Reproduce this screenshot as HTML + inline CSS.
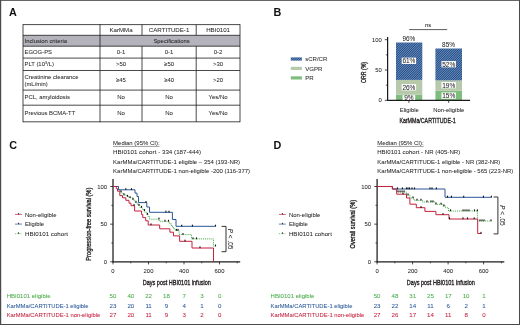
<!DOCTYPE html>
<html><head><meta charset="utf-8"><title>Figure</title>
<style>
html,body{margin:0;padding:0;background:#fff;}
body{width:520px;height:325px;overflow:hidden;position:relative;}
svg{position:absolute;left:0;top:0;display:block;will-change:transform;}
svg text{font-family:"Liberation Sans",sans-serif;}
</style></head><body>
<svg width="520" height="325" viewBox="0 0 520 325">
<defs>
<pattern id="hb" width="1.62" height="1.62" patternUnits="userSpaceOnUse" patternTransform="rotate(-45)">
<rect width="1.62" height="1.62" fill="#194887"/><rect width="1.62" height="0.4" fill="#cdd9ea"/>
</pattern>
<pattern id="hv" width="1" height="1" patternUnits="userSpaceOnUse">
<rect width="1" height="1" fill="#b0c5a5"/><rect width="0.5" height="0.5" fill="#c9d8c0"/>
</pattern>
<pattern id="hp" width="1" height="1" patternUnits="userSpaceOnUse">
<rect width="1" height="1" fill="#77b977"/><rect width="0.5" height="0.5" fill="#98cc98"/>
</pattern>
</defs>

<rect x="0" y="0" width="520" height="0.85" fill="#4a4a4a"/><rect x="0" y="0" width="1.2" height="325" fill="#4a4a4a"/><rect x="519" y="0" width="1" height="325" fill="#4a4a4a"/><rect x="0" y="324" width="520" height="1" fill="#4a4a4a"/>
<text x="9" y="15.8" font-size="10.8" text-anchor="start" fill="#111" stroke="#111" stroke-width="0" font-weight="bold">A</text>
<text x="273.5" y="15.8" font-size="10.8" text-anchor="start" fill="#111" stroke="#111" stroke-width="0" font-weight="bold">B</text>
<text x="9.2" y="149.4" font-size="10.8" text-anchor="start" fill="#111" stroke="#111" stroke-width="0" font-weight="bold">C</text>
<text x="273.5" y="149.4" font-size="10.8" text-anchor="start" fill="#111" stroke="#111" stroke-width="0" font-weight="bold">D</text>
<rect x="23" y="35.3" width="217" height="10.900000000000006" fill="#b4b3bb"/>
<line x1="23" y1="24.6" x2="240" y2="24.6" stroke="#1c1c1c" stroke-width="0.8"/>
<line x1="23" y1="35.3" x2="240" y2="35.3" stroke="#1c1c1c" stroke-width="0.8"/>
<line x1="23" y1="46.2" x2="240" y2="46.2" stroke="#1c1c1c" stroke-width="0.8"/>
<line x1="23" y1="58.1" x2="240" y2="58.1" stroke="#1c1c1c" stroke-width="0.8"/>
<line x1="23" y1="70.5" x2="240" y2="70.5" stroke="#1c1c1c" stroke-width="0.8"/>
<line x1="23" y1="90.1" x2="240" y2="90.1" stroke="#1c1c1c" stroke-width="0.8"/>
<line x1="23" y1="105.2" x2="240" y2="105.2" stroke="#1c1c1c" stroke-width="0.8"/>
<line x1="23" y1="121.8" x2="240" y2="121.8" stroke="#1c1c1c" stroke-width="0.8"/>
<line x1="23" y1="24.200000000000003" x2="23" y2="122.2" stroke="#1c1c1c" stroke-width="0.8"/>
<line x1="100" y1="24.200000000000003" x2="100" y2="122.2" stroke="#1c1c1c" stroke-width="0.8"/>
<line x1="142" y1="24.6" x2="142" y2="35.3" stroke="#1c1c1c" stroke-width="0.8"/>
<line x1="142" y1="46.2" x2="142" y2="121.8" stroke="#1c1c1c" stroke-width="0.8"/>
<line x1="196.2" y1="24.6" x2="196.2" y2="35.3" stroke="#1c1c1c" stroke-width="0.8"/>
<line x1="196.2" y1="46.2" x2="196.2" y2="121.8" stroke="#1c1c1c" stroke-width="0.8"/>
<line x1="240" y1="24.200000000000003" x2="240" y2="122.2" stroke="#1c1c1c" stroke-width="0.8"/>
<text x="121.0" y="32.05" font-size="6.15" text-anchor="middle" fill="#231f20" stroke="#231f20" stroke-width="0.04" font-weight="normal">KarMMa</text>
<text x="169.1" y="32.05" font-size="6.15" text-anchor="middle" fill="#231f20" stroke="#231f20" stroke-width="0.04" font-weight="normal">CARTITUDE-1</text>
<text x="218.1" y="32.05" font-size="6.15" text-anchor="middle" fill="#231f20" stroke="#231f20" stroke-width="0.04" font-weight="normal">HBI0101</text>
<text x="24.5" y="42.85" font-size="5.9" text-anchor="start" fill="#231f20" stroke="#231f20" stroke-width="0.04" font-weight="normal">Inclusion criteria</text>
<text x="171.6" y="42.85" font-size="5.9" text-anchor="middle" fill="#231f20" stroke="#231f20" stroke-width="0.04" font-weight="normal">Specifications</text>
<text x="24.5" y="54.25000000000001" font-size="5.9" text-anchor="start" fill="#231f20" stroke="#231f20" stroke-width="0.04" font-weight="normal">EGOG-PS</text>
<text x="121.0" y="54.25000000000001" font-size="6.0" text-anchor="middle" fill="#231f20" stroke="#231f20" stroke-width="0.04" font-weight="normal">0-1</text>
<text x="169.1" y="54.25000000000001" font-size="6.0" text-anchor="middle" fill="#231f20" stroke="#231f20" stroke-width="0.04" font-weight="normal">0-1</text>
<text x="218.1" y="54.25000000000001" font-size="6.0" text-anchor="middle" fill="#231f20" stroke="#231f20" stroke-width="0.04" font-weight="normal">0-2</text>
<text x="24.5" y="66.39999999999999" font-size="5.9" text-anchor="start" fill="#231f20" stroke="#231f20" stroke-width="0.04" font-weight="normal">PLT (10<tspan font-size="3.8" dy="-2.2">3</tspan><tspan dy="2.2">/L)</tspan></text>
<text x="121.0" y="66.39999999999999" font-size="6.0" text-anchor="middle" fill="#231f20" stroke="#231f20" stroke-width="0.04" font-weight="normal">&gt;50</text>
<text x="169.1" y="66.39999999999999" font-size="6.0" text-anchor="middle" fill="#231f20" stroke="#231f20" stroke-width="0.04" font-weight="normal">≥50</text>
<text x="218.1" y="66.39999999999999" font-size="6.0" text-anchor="middle" fill="#231f20" stroke="#231f20" stroke-width="0.04" font-weight="normal">&gt;30</text>
<text x="24.5" y="78.7" font-size="5.9" text-anchor="start" fill="#231f20" stroke="#231f20" stroke-width="0.04" font-weight="normal">Creatinine clearance</text>
<text x="24.5" y="86.2" font-size="5.9" text-anchor="start" fill="#231f20" stroke="#231f20" stroke-width="0.04" font-weight="normal">(mL/min)</text>
<text x="121.0" y="82.39999999999999" font-size="5.9" text-anchor="middle" fill="#231f20" stroke="#231f20" stroke-width="0.04" font-weight="normal">≥45</text>
<text x="169.1" y="82.39999999999999" font-size="5.9" text-anchor="middle" fill="#231f20" stroke="#231f20" stroke-width="0.04" font-weight="normal">≥40</text>
<text x="218.1" y="82.39999999999999" font-size="5.9" text-anchor="middle" fill="#231f20" stroke="#231f20" stroke-width="0.04" font-weight="normal">&gt;20</text>
<text x="24.5" y="99.15" font-size="5.9" text-anchor="start" fill="#231f20" stroke="#231f20" stroke-width="0.04" font-weight="normal">PCL, amyloidosis</text>
<text x="121.0" y="99.15" font-size="6.0" text-anchor="middle" fill="#231f20" stroke="#231f20" stroke-width="0.04" font-weight="normal">No</text>
<text x="169.1" y="99.15" font-size="6.0" text-anchor="middle" fill="#231f20" stroke="#231f20" stroke-width="0.04" font-weight="normal">No</text>
<text x="218.1" y="99.15" font-size="6.0" text-anchor="middle" fill="#231f20" stroke="#231f20" stroke-width="0.04" font-weight="normal">Yes/No</text>
<text x="24.5" y="115.0" font-size="5.9" text-anchor="start" fill="#231f20" stroke="#231f20" stroke-width="0.04" font-weight="normal">Previous BCMA-TT</text>
<text x="121.0" y="115.0" font-size="6.0" text-anchor="middle" fill="#231f20" stroke="#231f20" stroke-width="0.04" font-weight="normal">No</text>
<text x="169.1" y="115.0" font-size="6.0" text-anchor="middle" fill="#231f20" stroke="#231f20" stroke-width="0.04" font-weight="normal">No</text>
<text x="218.1" y="115.0" font-size="6.0" text-anchor="middle" fill="#231f20" stroke="#231f20" stroke-width="0.04" font-weight="normal">Yes/No</text>
<rect x="396.0" y="94.70" width="26.30" height="5.60" fill="url(#hp)"/>
<rect x="396.0" y="79.90" width="26.30" height="14.80" fill="url(#hv)"/>
<rect x="396.0" y="42.50" width="26.30" height="37.40" fill="url(#hb)"/>
<rect x="435.4" y="90.80" width="26.60" height="9.50" fill="url(#hp)"/>
<rect x="435.4" y="80.40" width="26.60" height="10.40" fill="url(#hv)"/>
<rect x="435.4" y="48.50" width="26.60" height="31.90" fill="url(#hb)"/>
<line x1="387.6" y1="37.0" x2="387.6" y2="100.8" stroke="#1c1c1c" stroke-width="1.25"/>
<line x1="387.1" y1="100.3" x2="470" y2="100.3" stroke="#1c1c1c" stroke-width="1.25"/>
<line x1="384.8" y1="100.30" x2="387.6" y2="100.30" stroke="#1c1c1c" stroke-width="0.8"/>
<line x1="385.90000000000003" y1="85.15" x2="387.6" y2="85.15" stroke="#1c1c1c" stroke-width="0.8"/>
<line x1="384.8" y1="70.00" x2="387.6" y2="70.00" stroke="#1c1c1c" stroke-width="0.8"/>
<line x1="385.90000000000003" y1="54.85" x2="387.6" y2="54.85" stroke="#1c1c1c" stroke-width="0.8"/>
<line x1="384.8" y1="39.70" x2="387.6" y2="39.70" stroke="#1c1c1c" stroke-width="0.8"/>
<text x="381.8" y="102.39999999999999" font-size="5.9" text-anchor="end" fill="#231f20" stroke="#231f20" stroke-width="0.04" font-weight="normal">0</text>
<text x="381.8" y="72.1" font-size="5.9" text-anchor="end" fill="#231f20" stroke="#231f20" stroke-width="0.04" font-weight="normal">50</text>
<text x="381.8" y="41.800000000000004" font-size="5.9" text-anchor="end" fill="#231f20" stroke="#231f20" stroke-width="0.04" font-weight="normal">100</text>
<line x1="408.9" y1="100.3" x2="408.9" y2="102.89999999999999" stroke="#1c1c1c" stroke-width="0.8"/>
<line x1="448.7" y1="100.3" x2="448.7" y2="102.89999999999999" stroke="#1c1c1c" stroke-width="0.8"/>
<text x="409.3" y="111.8" font-size="5.9" text-anchor="middle" fill="#231f20" stroke="#231f20" stroke-width="0.04" font-weight="normal">Eligible</text>
<text x="448.7" y="111.8" font-size="5.9" text-anchor="middle" fill="#231f20" stroke="#231f20" stroke-width="0.04" font-weight="normal">Non-eligible</text>
<g transform="translate(427.5,122.6) rotate(0) scale(0.7142,1)"><text x="0" y="0" font-size="7.4" text-anchor="middle" fill="#231f20" stroke="#231f20" stroke-width="0.34">KarMMa/CARTITUDE-1</text></g>
<g transform="translate(365.6,72.5) rotate(-90) scale(0.7047,1)"><text x="0" y="0" font-size="7.4" text-anchor="middle" fill="#231f20" stroke="#231f20" stroke-width="0.34">ORR (%)</text></g>
<rect x="401.7" y="57.65" width="14.4" height="6.30" fill="#ffffff"/>
<text x="408.9" y="63.099999999999994" font-size="6.5" text-anchor="middle" fill="#231f20" stroke="#231f20" stroke-width="0.04" font-weight="normal">61%</text>
<rect x="401.7" y="84.14999999999999" width="14.4" height="6.30" fill="#ffffff"/>
<text x="408.9" y="89.6" font-size="6.5" text-anchor="middle" fill="#231f20" stroke="#231f20" stroke-width="0.04" font-weight="normal">26%</text>
<rect x="402.59999999999997" y="95.2" width="12.6" height="4.70" fill="#ffffff"/>
<text x="408.9" y="100.3" font-size="6.5" text-anchor="middle" fill="#231f20" stroke="#231f20" stroke-width="0.04" font-weight="normal">9%</text>
<rect x="441.5" y="61.050000000000004" width="14.4" height="6.30" fill="#ffffff"/>
<text x="448.7" y="66.5" font-size="6.5" text-anchor="middle" fill="#231f20" stroke="#231f20" stroke-width="0.04" font-weight="normal">52%</text>
<rect x="441.5" y="82.05" width="14.4" height="6.30" fill="#ffffff"/>
<text x="448.7" y="87.5" font-size="6.5" text-anchor="middle" fill="#231f20" stroke="#231f20" stroke-width="0.04" font-weight="normal">19%</text>
<rect x="441.5" y="92.44999999999999" width="14.4" height="6.30" fill="#ffffff"/>
<text x="448.7" y="97.89999999999999" font-size="6.5" text-anchor="middle" fill="#231f20" stroke="#231f20" stroke-width="0.04" font-weight="normal">15%</text>
<text x="408.9" y="40.8" font-size="6.4" text-anchor="middle" fill="#231f20" stroke="#231f20" stroke-width="0.04" font-weight="normal">96%</text>
<text x="448.5" y="47.1" font-size="6.4" text-anchor="middle" fill="#231f20" stroke="#231f20" stroke-width="0.04" font-weight="normal">85%</text>
<text x="428.2" y="26.8" font-size="5.9" text-anchor="middle" fill="#231f20" stroke="#231f20" stroke-width="0.04" font-weight="normal">ns</text>
<line x1="409.2" y1="29.6" x2="447.2" y2="29.6" stroke="#4a4a4a" stroke-width="0.9"/>
<rect x="290.8" y="57.4" width="11.1" height="3.2" fill="url(#hb)"/>
<text x="305.2" y="61.2" font-size="6.1" text-anchor="start" fill="#231f20" stroke="#231f20" stroke-width="0.04" font-weight="normal" textLength="22.1" lengthAdjust="spacingAndGlyphs">sCR/CR</text>
<rect x="290.8" y="66.80000000000001" width="11.1" height="3.2" fill="url(#hv)"/>
<text x="305.2" y="70.60000000000001" font-size="6.1" text-anchor="start" fill="#231f20" stroke="#231f20" stroke-width="0.04" font-weight="normal">VGPR</text>
<rect x="290.8" y="76.30000000000001" width="11.1" height="3.2" fill="url(#hp)"/>
<text x="305.2" y="80.10000000000001" font-size="6.1" text-anchor="start" fill="#231f20" stroke="#231f20" stroke-width="0.04" font-weight="normal">PR</text>
<text x="113.1" y="145.3" font-size="5.9" text-anchor="start" fill="#231f20" stroke="#231f20" stroke-width="0.04" font-weight="normal" textLength="46.5" lengthAdjust="spacingAndGlyphs">Median (95% CI):</text>
<line x1="113.1" y1="146.4" x2="159.6" y2="146.4" stroke="#231f20" stroke-width="0.45"/>
<text x="113.1" y="154.3" font-size="5.9" text-anchor="start" fill="#231f20" stroke="#231f20" stroke-width="0.04" font-weight="normal" textLength="88" lengthAdjust="spacingAndGlyphs">HBI0101 cohort - 334 (187-444)</text>
<text x="113.1" y="163.8" font-size="5.9" text-anchor="start" fill="#231f20" stroke="#231f20" stroke-width="0.04" font-weight="normal" textLength="127" lengthAdjust="spacingAndGlyphs">KarMMa/CARTITUDE-1 eligible – 354 (193-NR)</text>
<text x="113.1" y="173.3" font-size="5.9" text-anchor="start" fill="#231f20" stroke="#231f20" stroke-width="0.04" font-weight="normal" textLength="137" lengthAdjust="spacingAndGlyphs">KarMMa/CARTITUDE-1 non-eligible -200 (116-377)</text>
<line x1="113.0" y1="179.0" x2="113.0" y2="262.3" stroke="#1c1c1c" stroke-width="1.25"/>
<line x1="112.5" y1="261.8" x2="240.2" y2="261.8" stroke="#1c1c1c" stroke-width="1.25"/>
<line x1="110.2" y1="261.80" x2="113.0" y2="261.80" stroke="#1c1c1c" stroke-width="0.8"/>
<text x="107.0" y="263.90000000000003" font-size="5.9" text-anchor="end" fill="#231f20" stroke="#231f20" stroke-width="0.04" font-weight="normal">0</text>
<line x1="111.4" y1="242.98" x2="113.0" y2="242.98" stroke="#1c1c1c" stroke-width="0.8"/>
<line x1="110.2" y1="224.15" x2="113.0" y2="224.15" stroke="#1c1c1c" stroke-width="0.8"/>
<text x="107.0" y="226.25" font-size="5.9" text-anchor="end" fill="#231f20" stroke="#231f20" stroke-width="0.04" font-weight="normal">50</text>
<line x1="111.4" y1="205.32" x2="113.0" y2="205.32" stroke="#1c1c1c" stroke-width="0.8"/>
<line x1="110.2" y1="186.50" x2="113.0" y2="186.50" stroke="#1c1c1c" stroke-width="0.8"/>
<text x="107.0" y="188.6" font-size="5.9" text-anchor="end" fill="#231f20" stroke="#231f20" stroke-width="0.04" font-weight="normal">100</text>
<line x1="113.00" y1="261.8" x2="113.00" y2="264.40000000000003" stroke="#1c1c1c" stroke-width="0.8"/>
<text x="113.00" y="272.7" font-size="5.9" text-anchor="middle" fill="#231f20" stroke="#231f20" stroke-width="0.04" font-weight="normal">0</text>
<line x1="130.75" y1="261.8" x2="130.75" y2="263.3" stroke="#1c1c1c" stroke-width="0.8"/>
<line x1="148.50" y1="261.8" x2="148.50" y2="264.40000000000003" stroke="#1c1c1c" stroke-width="0.8"/>
<text x="148.50" y="272.7" font-size="5.9" text-anchor="middle" fill="#231f20" stroke="#231f20" stroke-width="0.04" font-weight="normal">200</text>
<line x1="166.25" y1="261.8" x2="166.25" y2="263.3" stroke="#1c1c1c" stroke-width="0.8"/>
<line x1="184.00" y1="261.8" x2="184.00" y2="264.40000000000003" stroke="#1c1c1c" stroke-width="0.8"/>
<text x="184.00" y="272.7" font-size="5.9" text-anchor="middle" fill="#231f20" stroke="#231f20" stroke-width="0.04" font-weight="normal">400</text>
<line x1="201.75" y1="261.8" x2="201.75" y2="263.3" stroke="#1c1c1c" stroke-width="0.8"/>
<line x1="219.50" y1="261.8" x2="219.50" y2="264.40000000000003" stroke="#1c1c1c" stroke-width="0.8"/>
<text x="219.50" y="272.7" font-size="5.9" text-anchor="middle" fill="#231f20" stroke="#231f20" stroke-width="0.04" font-weight="normal">600</text>
<line x1="237.25" y1="261.8" x2="237.25" y2="263.3" stroke="#1c1c1c" stroke-width="0.8"/>
<g transform="translate(176.8,284.7) rotate(0) scale(0.7473,1)"><text x="0" y="0" font-size="7.4" text-anchor="middle" fill="#231f20" stroke="#231f20" stroke-width="0.34">Days post HBI0101 infusion</text></g>
<g transform="translate(91.1,224.2) rotate(-90) scale(0.7662,1)"><text x="0" y="0" font-size="7.4" text-anchor="middle" fill="#231f20" stroke="#231f20" stroke-width="0.34">Progression-free survival (%)</text></g>
<path d="M113,186.5 H118.5 V189 H119.5 V190.5 H120.5 V192 H122 V193.5 H123.5 V195 H127 V196.5 H129 V197.8 H132.7 V199.5 H134 V201 H135.5 V202.5 H137 V204 H138.5 V205.5 H140 V207.5 H142 V209 H143.5 V210.7 H145 V212.5 H146.6 V214.5 H148 V216.5 H149.5 V219.2 H159.2 V221.3 H169 V223.3 H171 V225.5 H172.5 V227.5 H174 V229.3 H175.3 V230.5 H179.1 V234.6 H191.5 V238.9 H213.5 V246.2 H215.5" fill="none" stroke="#48ab48" stroke-width="1" stroke-dasharray="1.0 0.9" stroke-linejoin="miter"/>
<rect x="120.45" y="190.4" width="1.1" height="1.8" fill="#111"/>
<rect x="123.45" y="193.4" width="1.1" height="1.8" fill="#111"/>
<rect x="126.95" y="194.9" width="1.1" height="1.8" fill="#111"/>
<rect x="129.45" y="196.20000000000002" width="1.1" height="1.8" fill="#111"/>
<rect x="132.45" y="197.9" width="1.1" height="1.8" fill="#111"/>
<rect x="135.45" y="200.9" width="1.1" height="1.8" fill="#111"/>
<rect x="138.45" y="203.9" width="1.1" height="1.8" fill="#111"/>
<rect x="140.95" y="205.9" width="1.1" height="1.8" fill="#111"/>
<rect x="143.95" y="209.1" width="1.1" height="1.8" fill="#111"/>
<rect x="146.95" y="212.9" width="1.1" height="1.8" fill="#111"/>
<rect x="158.45" y="217.6" width="1.1" height="1.8" fill="#111"/>
<rect x="164.45" y="219.8" width="1.1" height="1.8" fill="#111"/>
<rect x="167.95" y="219.8" width="1.1" height="1.8" fill="#111"/>
<rect x="175.95" y="228.9" width="1.1" height="1.8" fill="#111"/>
<rect x="177.45" y="228.9" width="1.1" height="1.8" fill="#111"/>
<rect x="182.45" y="233.1" width="1.1" height="1.8" fill="#111"/>
<rect x="192.45" y="237.4" width="1.1" height="1.8" fill="#111"/>
<rect x="195.95" y="237.4" width="1.1" height="1.8" fill="#111"/>
<rect x="214.95" y="244.6" width="1.1" height="1.8" fill="#111"/>
<path d="M113,186.5 H118.5 V189.8 H135 V193.1 H137 V196.5 H138.5 V202.6 H146.8 V207 H149.5 V212.3 H172.4 V219.5 H176 V226.3 H215.5" fill="none" stroke="#28579a" stroke-width="1" stroke-linejoin="miter"/>
<rect x="125.25" y="188.20000000000002" width="1.1" height="1.8" fill="#111"/>
<rect x="130.95" y="188.20000000000002" width="1.1" height="1.8" fill="#111"/>
<rect x="145.45" y="201.0" width="1.1" height="1.8" fill="#111"/>
<rect x="165.35" y="210.70000000000002" width="1.1" height="1.8" fill="#111"/>
<rect x="168.45" y="210.70000000000002" width="1.1" height="1.8" fill="#111"/>
<rect x="181.14999999999998" y="224.70000000000002" width="1.1" height="1.8" fill="#111"/>
<rect x="191.85" y="224.70000000000002" width="1.1" height="1.8" fill="#111"/>
<rect x="214.95" y="224.70000000000002" width="1.1" height="1.8" fill="#111"/>
<path d="M113,186.5 H116.3 V188.7 H117.5 V191.2 H119.8 V195.6 H122.5 V197.8 H125.8 V200.3 H129 V203.2 H131 V205.7 H134.6 V211 H141.6 V214.6 H142.8 V217.6 H145.7 V220.8 H148.2 V225 H159.7 V228.8 H169.9 V232.2 H173.5 V235.9 H179.6 V241.3 H192 V248 H213.5 V261.8" fill="none" stroke="#c4203c" stroke-width="1" stroke-linejoin="miter"/>
<rect x="133.45" y="204.1" width="1.1" height="1.8" fill="#111"/>
<rect x="150.45" y="223.4" width="1.1" height="1.8" fill="#111"/>
<rect x="184.45" y="239.70000000000002" width="1.1" height="1.8" fill="#111"/>
<rect x="199.45" y="246.4" width="1.1" height="1.8" fill="#111"/>
<path d="M221.6,226.4 H226.0 V251.7 H221.6" fill="none" stroke="#1c1c1c" stroke-width="0.9"/>
<g transform="translate(227.9,239.05) rotate(90)"><text x="0" y="0" font-size="6.4" text-anchor="middle" fill="#231f20" stroke="#231f20" stroke-width="0.04"><tspan font-style="italic">P</tspan> &lt; .05</text></g>
<line x1="15.0" y1="214.4" x2="22.0" y2="214.4" stroke="#c4203c" stroke-width="0.7"/>
<rect x="18.0" y="213.1" width="1.1" height="1.4" fill="#333"/>
<text x="25.0" y="216.5" font-size="5.9" text-anchor="start" fill="#231f20" stroke="#231f20" stroke-width="0.04" font-weight="normal" textLength="31.5" lengthAdjust="spacingAndGlyphs">Non-eligible</text>
<line x1="15.0" y1="224.1" x2="22.0" y2="224.1" stroke="#28579a" stroke-width="0.7"/>
<rect x="18.0" y="222.79999999999998" width="1.1" height="1.4" fill="#333"/>
<text x="25.0" y="226.2" font-size="5.9" text-anchor="start" fill="#231f20" stroke="#231f20" stroke-width="0.04" font-weight="normal">Eligible</text>
<line x1="15.0" y1="233.7" x2="22.0" y2="233.7" stroke="#48ab48" stroke-width="0.7" stroke-dasharray="1.2 1"/>
<rect x="18.0" y="232.39999999999998" width="1.1" height="1.4" fill="#333"/>
<text x="25.0" y="235.79999999999998" font-size="5.9" text-anchor="start" fill="#231f20" stroke="#231f20" stroke-width="0.04" font-weight="normal" textLength="43" lengthAdjust="spacingAndGlyphs">HBI0101 cohort</text>
<text x="6.7" y="298.1" font-size="5.85" text-anchor="start" fill="#48ab48" stroke="#48ab48" stroke-width="0.05" font-weight="normal" textLength="43.8" lengthAdjust="spacingAndGlyphs">HBI0101 eligible</text>
<text x="113.00" y="298.1" font-size="6.15" text-anchor="middle" fill="#48ab48" stroke="#48ab48" stroke-width="0.05" font-weight="normal">50</text>
<text x="130.80" y="298.1" font-size="6.15" text-anchor="middle" fill="#48ab48" stroke="#48ab48" stroke-width="0.05" font-weight="normal">40</text>
<text x="148.60" y="298.1" font-size="6.15" text-anchor="middle" fill="#48ab48" stroke="#48ab48" stroke-width="0.05" font-weight="normal">22</text>
<text x="166.40" y="298.1" font-size="6.15" text-anchor="middle" fill="#48ab48" stroke="#48ab48" stroke-width="0.05" font-weight="normal">18</text>
<text x="184.20" y="298.1" font-size="6.15" text-anchor="middle" fill="#48ab48" stroke="#48ab48" stroke-width="0.05" font-weight="normal">7</text>
<text x="202.00" y="298.1" font-size="6.15" text-anchor="middle" fill="#48ab48" stroke="#48ab48" stroke-width="0.05" font-weight="normal">3</text>
<text x="219.80" y="298.1" font-size="6.15" text-anchor="middle" fill="#48ab48" stroke="#48ab48" stroke-width="0.05" font-weight="normal">0</text>
<text x="6.7" y="307.5" font-size="5.85" text-anchor="start" fill="#28579a" stroke="#28579a" stroke-width="0.05" font-weight="normal" textLength="81.8" lengthAdjust="spacingAndGlyphs">KarMMa/CARTITUDE-1 eligible</text>
<text x="113.00" y="307.5" font-size="6.15" text-anchor="middle" fill="#28579a" stroke="#28579a" stroke-width="0.05" font-weight="normal">23</text>
<text x="130.80" y="307.5" font-size="6.15" text-anchor="middle" fill="#28579a" stroke="#28579a" stroke-width="0.05" font-weight="normal">20</text>
<text x="148.60" y="307.5" font-size="6.15" text-anchor="middle" fill="#28579a" stroke="#28579a" stroke-width="0.05" font-weight="normal">11</text>
<text x="166.40" y="307.5" font-size="6.15" text-anchor="middle" fill="#28579a" stroke="#28579a" stroke-width="0.05" font-weight="normal">9</text>
<text x="184.20" y="307.5" font-size="6.15" text-anchor="middle" fill="#28579a" stroke="#28579a" stroke-width="0.05" font-weight="normal">4</text>
<text x="202.00" y="307.5" font-size="6.15" text-anchor="middle" fill="#28579a" stroke="#28579a" stroke-width="0.05" font-weight="normal">1</text>
<text x="219.80" y="307.5" font-size="6.15" text-anchor="middle" fill="#28579a" stroke="#28579a" stroke-width="0.05" font-weight="normal">0</text>
<text x="6.7" y="316.90000000000003" font-size="5.85" text-anchor="start" fill="#c4203c" stroke="#c4203c" stroke-width="0.05" font-weight="normal" textLength="93.6" lengthAdjust="spacingAndGlyphs">KarMMa/CARTITUDE-1 non-eligible</text>
<text x="113.00" y="316.90000000000003" font-size="6.15" text-anchor="middle" fill="#c4203c" stroke="#c4203c" stroke-width="0.05" font-weight="normal">27</text>
<text x="130.80" y="316.90000000000003" font-size="6.15" text-anchor="middle" fill="#c4203c" stroke="#c4203c" stroke-width="0.05" font-weight="normal">20</text>
<text x="148.60" y="316.90000000000003" font-size="6.15" text-anchor="middle" fill="#c4203c" stroke="#c4203c" stroke-width="0.05" font-weight="normal">11</text>
<text x="166.40" y="316.90000000000003" font-size="6.15" text-anchor="middle" fill="#c4203c" stroke="#c4203c" stroke-width="0.05" font-weight="normal">9</text>
<text x="184.20" y="316.90000000000003" font-size="6.15" text-anchor="middle" fill="#c4203c" stroke="#c4203c" stroke-width="0.05" font-weight="normal">3</text>
<text x="202.00" y="316.90000000000003" font-size="6.15" text-anchor="middle" fill="#c4203c" stroke="#c4203c" stroke-width="0.05" font-weight="normal">2</text>
<text x="219.80" y="316.90000000000003" font-size="6.15" text-anchor="middle" fill="#c4203c" stroke="#c4203c" stroke-width="0.05" font-weight="normal">0</text>
<text x="377.20000000000005" y="145.3" font-size="5.9" text-anchor="start" fill="#231f20" stroke="#231f20" stroke-width="0.04" font-weight="normal" textLength="46.5" lengthAdjust="spacingAndGlyphs">Median (95% CI):</text>
<line x1="377.20000000000005" y1="146.4" x2="423.70000000000005" y2="146.4" stroke="#231f20" stroke-width="0.45"/>
<text x="377.20000000000005" y="154.3" font-size="5.9" text-anchor="start" fill="#231f20" stroke="#231f20" stroke-width="0.04" font-weight="normal" textLength="83" lengthAdjust="spacingAndGlyphs">HBI0101 cohort - NR (405-NR)</text>
<text x="377.20000000000005" y="163.8" font-size="5.9" text-anchor="start" fill="#231f20" stroke="#231f20" stroke-width="0.04" font-weight="normal" textLength="123" lengthAdjust="spacingAndGlyphs">KarMMa/CARTITUDE-1 eligible - NR (382-NR)</text>
<text x="377.20000000000005" y="173.3" font-size="5.9" text-anchor="start" fill="#231f20" stroke="#231f20" stroke-width="0.04" font-weight="normal" textLength="136" lengthAdjust="spacingAndGlyphs">KarMMa/CARTITUDE-1 non-eligible - 565 (223-NR)</text>
<line x1="377.1" y1="179.0" x2="377.1" y2="262.3" stroke="#1c1c1c" stroke-width="1.25"/>
<line x1="376.6" y1="261.8" x2="504.3" y2="261.8" stroke="#1c1c1c" stroke-width="1.25"/>
<line x1="374.3" y1="261.80" x2="377.1" y2="261.80" stroke="#1c1c1c" stroke-width="0.8"/>
<text x="371.1" y="263.90000000000003" font-size="5.9" text-anchor="end" fill="#231f20" stroke="#231f20" stroke-width="0.04" font-weight="normal">0</text>
<line x1="375.5" y1="242.98" x2="377.1" y2="242.98" stroke="#1c1c1c" stroke-width="0.8"/>
<line x1="374.3" y1="224.15" x2="377.1" y2="224.15" stroke="#1c1c1c" stroke-width="0.8"/>
<text x="371.1" y="226.25" font-size="5.9" text-anchor="end" fill="#231f20" stroke="#231f20" stroke-width="0.04" font-weight="normal">50</text>
<line x1="375.5" y1="205.32" x2="377.1" y2="205.32" stroke="#1c1c1c" stroke-width="0.8"/>
<line x1="374.3" y1="186.50" x2="377.1" y2="186.50" stroke="#1c1c1c" stroke-width="0.8"/>
<text x="371.1" y="188.6" font-size="5.9" text-anchor="end" fill="#231f20" stroke="#231f20" stroke-width="0.04" font-weight="normal">100</text>
<line x1="377.10" y1="261.8" x2="377.10" y2="264.40000000000003" stroke="#1c1c1c" stroke-width="0.8"/>
<text x="377.10" y="272.7" font-size="5.9" text-anchor="middle" fill="#231f20" stroke="#231f20" stroke-width="0.04" font-weight="normal">0</text>
<line x1="394.85" y1="261.8" x2="394.85" y2="263.3" stroke="#1c1c1c" stroke-width="0.8"/>
<line x1="412.60" y1="261.8" x2="412.60" y2="264.40000000000003" stroke="#1c1c1c" stroke-width="0.8"/>
<text x="412.60" y="272.7" font-size="5.9" text-anchor="middle" fill="#231f20" stroke="#231f20" stroke-width="0.04" font-weight="normal">200</text>
<line x1="430.35" y1="261.8" x2="430.35" y2="263.3" stroke="#1c1c1c" stroke-width="0.8"/>
<line x1="448.10" y1="261.8" x2="448.10" y2="264.40000000000003" stroke="#1c1c1c" stroke-width="0.8"/>
<text x="448.10" y="272.7" font-size="5.9" text-anchor="middle" fill="#231f20" stroke="#231f20" stroke-width="0.04" font-weight="normal">400</text>
<line x1="465.85" y1="261.8" x2="465.85" y2="263.3" stroke="#1c1c1c" stroke-width="0.8"/>
<line x1="483.60" y1="261.8" x2="483.60" y2="264.40000000000003" stroke="#1c1c1c" stroke-width="0.8"/>
<text x="483.60" y="272.7" font-size="5.9" text-anchor="middle" fill="#231f20" stroke="#231f20" stroke-width="0.04" font-weight="normal">600</text>
<line x1="501.35" y1="261.8" x2="501.35" y2="263.3" stroke="#1c1c1c" stroke-width="0.8"/>
<g transform="translate(440.90000000000003,284.7) rotate(0) scale(0.7473,1)"><text x="0" y="0" font-size="7.4" text-anchor="middle" fill="#231f20" stroke="#231f20" stroke-width="0.34">Days post HBI0101 infusion</text></g>
<g transform="translate(355.20000000000005,224.2) rotate(-90) scale(0.7568,1)"><text x="0" y="0" font-size="7.4" text-anchor="middle" fill="#231f20" stroke="#231f20" stroke-width="0.34">Overall survival (%)</text></g>
<path d="M377,186.5 H392.4 V189 H396.7 V192 H406.5 V195.1 H409.9 V198 H414 V200.3 H422.6 V202 H435.9 V204.3 H442.8 V206.1 H445.7 V207.8 H448.5 V211 H477.4 V221 H491.4" fill="none" stroke="#48ab48" stroke-width="1" stroke-dasharray="1.0 0.9" stroke-linejoin="miter"/>
<rect x="397.45" y="190.4" width="1.1" height="1.8" fill="#111"/>
<rect x="399.45" y="190.4" width="1.1" height="1.8" fill="#111"/>
<rect x="401.45" y="190.4" width="1.1" height="1.8" fill="#111"/>
<rect x="403.45" y="190.4" width="1.1" height="1.8" fill="#111"/>
<rect x="407.45" y="193.5" width="1.1" height="1.8" fill="#111"/>
<rect x="412.45" y="196.4" width="1.1" height="1.8" fill="#111"/>
<rect x="416.45" y="198.70000000000002" width="1.1" height="1.8" fill="#111"/>
<rect x="420.45" y="198.70000000000002" width="1.1" height="1.8" fill="#111"/>
<rect x="426.45" y="200.4" width="1.1" height="1.8" fill="#111"/>
<rect x="430.45" y="200.4" width="1.1" height="1.8" fill="#111"/>
<rect x="432.45" y="200.4" width="1.1" height="1.8" fill="#111"/>
<rect x="435.45" y="202.70000000000002" width="1.1" height="1.8" fill="#111"/>
<rect x="440.45" y="202.70000000000002" width="1.1" height="1.8" fill="#111"/>
<rect x="443.45" y="204.5" width="1.1" height="1.8" fill="#111"/>
<rect x="449.95" y="209.4" width="1.1" height="1.8" fill="#111"/>
<rect x="462.45" y="209.4" width="1.1" height="1.8" fill="#111"/>
<rect x="464.45" y="209.4" width="1.1" height="1.8" fill="#111"/>
<rect x="466.45" y="209.4" width="1.1" height="1.8" fill="#111"/>
<rect x="468.45" y="209.4" width="1.1" height="1.8" fill="#111"/>
<rect x="473.95" y="209.4" width="1.1" height="1.8" fill="#111"/>
<rect x="476.84999999999997" y="209.4" width="1.1" height="1.8" fill="#111"/>
<rect x="479.45" y="219.4" width="1.1" height="1.8" fill="#111"/>
<rect x="481.45" y="219.4" width="1.1" height="1.8" fill="#111"/>
<rect x="483.45" y="219.4" width="1.1" height="1.8" fill="#111"/>
<rect x="490.45" y="219.4" width="1.1" height="1.8" fill="#111"/>
<path d="M377,186.5 H392.4 V189 H445 V197.3 H491.4" fill="none" stroke="#28579a" stroke-width="1" stroke-linejoin="miter"/>
<rect x="396.95" y="187.4" width="1.1" height="1.8" fill="#111"/>
<rect x="401.84999999999997" y="187.4" width="1.1" height="1.8" fill="#111"/>
<rect x="405.95" y="187.4" width="1.1" height="1.8" fill="#111"/>
<rect x="407.45" y="187.4" width="1.1" height="1.8" fill="#111"/>
<rect x="408.95" y="187.4" width="1.1" height="1.8" fill="#111"/>
<rect x="411.45" y="187.4" width="1.1" height="1.8" fill="#111"/>
<rect x="413.95" y="187.4" width="1.1" height="1.8" fill="#111"/>
<rect x="429.45" y="187.4" width="1.1" height="1.8" fill="#111"/>
<rect x="431.45" y="187.4" width="1.1" height="1.8" fill="#111"/>
<rect x="435.84999999999997" y="187.4" width="1.1" height="1.8" fill="#111"/>
<rect x="446.95" y="195.70000000000002" width="1.1" height="1.8" fill="#111"/>
<rect x="450.84999999999997" y="195.70000000000002" width="1.1" height="1.8" fill="#111"/>
<rect x="463.15" y="195.70000000000002" width="1.1" height="1.8" fill="#111"/>
<rect x="482.84999999999997" y="195.70000000000002" width="1.1" height="1.8" fill="#111"/>
<rect x="490.84999999999997" y="195.70000000000002" width="1.1" height="1.8" fill="#111"/>
<path d="M377,186.5 H392.4 V189 H396.7 V194.2 H406.5 V198 H409.9 V204.2 H416.3 V207.7 H424.9 V211.4 H435.9 V214.7 H449 V219 H477.7 V233.5 H481.3" fill="none" stroke="#c4203c" stroke-width="1" stroke-linejoin="miter"/>
<rect x="402.45" y="192.6" width="1.1" height="1.8" fill="#111"/>
<rect x="420.45" y="206.1" width="1.1" height="1.8" fill="#111"/>
<rect x="442.45" y="213.1" width="1.1" height="1.8" fill="#111"/>
<rect x="448.95" y="217.4" width="1.1" height="1.8" fill="#111"/>
<rect x="462.45" y="217.4" width="1.1" height="1.8" fill="#111"/>
<rect x="466.95" y="217.4" width="1.1" height="1.8" fill="#111"/>
<rect x="473.65" y="217.4" width="1.1" height="1.8" fill="#111"/>
<rect x="480.45" y="231.9" width="1.1" height="1.8" fill="#111"/>
<path d="M493.6,197.0 H497.9 V233.9 H493.6" fill="none" stroke="#1c1c1c" stroke-width="0.9"/>
<g transform="translate(499.79999999999995,215.45) rotate(90)"><text x="0" y="0" font-size="6.4" text-anchor="middle" fill="#231f20" stroke="#231f20" stroke-width="0.04"><tspan font-style="italic">P</tspan> &lt; .05</text></g>
<line x1="278.9" y1="214.4" x2="285.9" y2="214.4" stroke="#c4203c" stroke-width="0.7"/>
<rect x="281.9" y="213.1" width="1.1" height="1.4" fill="#333"/>
<text x="288.9" y="216.5" font-size="5.9" text-anchor="start" fill="#231f20" stroke="#231f20" stroke-width="0.04" font-weight="normal" textLength="31.5" lengthAdjust="spacingAndGlyphs">Non-eligible</text>
<line x1="278.9" y1="224.1" x2="285.9" y2="224.1" stroke="#28579a" stroke-width="0.7"/>
<rect x="281.9" y="222.79999999999998" width="1.1" height="1.4" fill="#333"/>
<text x="288.9" y="226.2" font-size="5.9" text-anchor="start" fill="#231f20" stroke="#231f20" stroke-width="0.04" font-weight="normal">Eligible</text>
<line x1="278.9" y1="233.7" x2="285.9" y2="233.7" stroke="#48ab48" stroke-width="0.7" stroke-dasharray="1.2 1"/>
<rect x="281.9" y="232.39999999999998" width="1.1" height="1.4" fill="#333"/>
<text x="288.9" y="235.79999999999998" font-size="5.9" text-anchor="start" fill="#231f20" stroke="#231f20" stroke-width="0.04" font-weight="normal" textLength="43" lengthAdjust="spacingAndGlyphs">HBI0101 cohort</text>
<text x="270.59999999999997" y="298.1" font-size="5.85" text-anchor="start" fill="#48ab48" stroke="#48ab48" stroke-width="0.05" font-weight="normal" textLength="43.8" lengthAdjust="spacingAndGlyphs">HBI0101 eligible</text>
<text x="377.10" y="298.1" font-size="6.15" text-anchor="middle" fill="#48ab48" stroke="#48ab48" stroke-width="0.05" font-weight="normal">50</text>
<text x="394.90" y="298.1" font-size="6.15" text-anchor="middle" fill="#48ab48" stroke="#48ab48" stroke-width="0.05" font-weight="normal">48</text>
<text x="412.70" y="298.1" font-size="6.15" text-anchor="middle" fill="#48ab48" stroke="#48ab48" stroke-width="0.05" font-weight="normal">31</text>
<text x="430.50" y="298.1" font-size="6.15" text-anchor="middle" fill="#48ab48" stroke="#48ab48" stroke-width="0.05" font-weight="normal">25</text>
<text x="448.30" y="298.1" font-size="6.15" text-anchor="middle" fill="#48ab48" stroke="#48ab48" stroke-width="0.05" font-weight="normal">17</text>
<text x="466.10" y="298.1" font-size="6.15" text-anchor="middle" fill="#48ab48" stroke="#48ab48" stroke-width="0.05" font-weight="normal">10</text>
<text x="483.90" y="298.1" font-size="6.15" text-anchor="middle" fill="#48ab48" stroke="#48ab48" stroke-width="0.05" font-weight="normal">1</text>
<text x="270.59999999999997" y="307.5" font-size="5.85" text-anchor="start" fill="#28579a" stroke="#28579a" stroke-width="0.05" font-weight="normal" textLength="81.8" lengthAdjust="spacingAndGlyphs">KarMMa/CARTITUDE-1 eligible</text>
<text x="377.10" y="307.5" font-size="6.15" text-anchor="middle" fill="#28579a" stroke="#28579a" stroke-width="0.05" font-weight="normal">23</text>
<text x="394.90" y="307.5" font-size="6.15" text-anchor="middle" fill="#28579a" stroke="#28579a" stroke-width="0.05" font-weight="normal">22</text>
<text x="412.70" y="307.5" font-size="6.15" text-anchor="middle" fill="#28579a" stroke="#28579a" stroke-width="0.05" font-weight="normal">14</text>
<text x="430.50" y="307.5" font-size="6.15" text-anchor="middle" fill="#28579a" stroke="#28579a" stroke-width="0.05" font-weight="normal">11</text>
<text x="448.30" y="307.5" font-size="6.15" text-anchor="middle" fill="#28579a" stroke="#28579a" stroke-width="0.05" font-weight="normal">6</text>
<text x="466.10" y="307.5" font-size="6.15" text-anchor="middle" fill="#28579a" stroke="#28579a" stroke-width="0.05" font-weight="normal">2</text>
<text x="483.90" y="307.5" font-size="6.15" text-anchor="middle" fill="#28579a" stroke="#28579a" stroke-width="0.05" font-weight="normal">1</text>
<text x="270.59999999999997" y="316.90000000000003" font-size="5.85" text-anchor="start" fill="#c4203c" stroke="#c4203c" stroke-width="0.05" font-weight="normal" textLength="93.6" lengthAdjust="spacingAndGlyphs">KarMMa/CARTITUDE-1 non-eligible</text>
<text x="377.10" y="316.90000000000003" font-size="6.15" text-anchor="middle" fill="#c4203c" stroke="#c4203c" stroke-width="0.05" font-weight="normal">27</text>
<text x="394.90" y="316.90000000000003" font-size="6.15" text-anchor="middle" fill="#c4203c" stroke="#c4203c" stroke-width="0.05" font-weight="normal">26</text>
<text x="412.70" y="316.90000000000003" font-size="6.15" text-anchor="middle" fill="#c4203c" stroke="#c4203c" stroke-width="0.05" font-weight="normal">17</text>
<text x="430.50" y="316.90000000000003" font-size="6.15" text-anchor="middle" fill="#c4203c" stroke="#c4203c" stroke-width="0.05" font-weight="normal">14</text>
<text x="448.30" y="316.90000000000003" font-size="6.15" text-anchor="middle" fill="#c4203c" stroke="#c4203c" stroke-width="0.05" font-weight="normal">11</text>
<text x="466.10" y="316.90000000000003" font-size="6.15" text-anchor="middle" fill="#c4203c" stroke="#c4203c" stroke-width="0.05" font-weight="normal">8</text>
<text x="483.90" y="316.90000000000003" font-size="6.15" text-anchor="middle" fill="#c4203c" stroke="#c4203c" stroke-width="0.05" font-weight="normal">0</text>
</svg></body></html>
